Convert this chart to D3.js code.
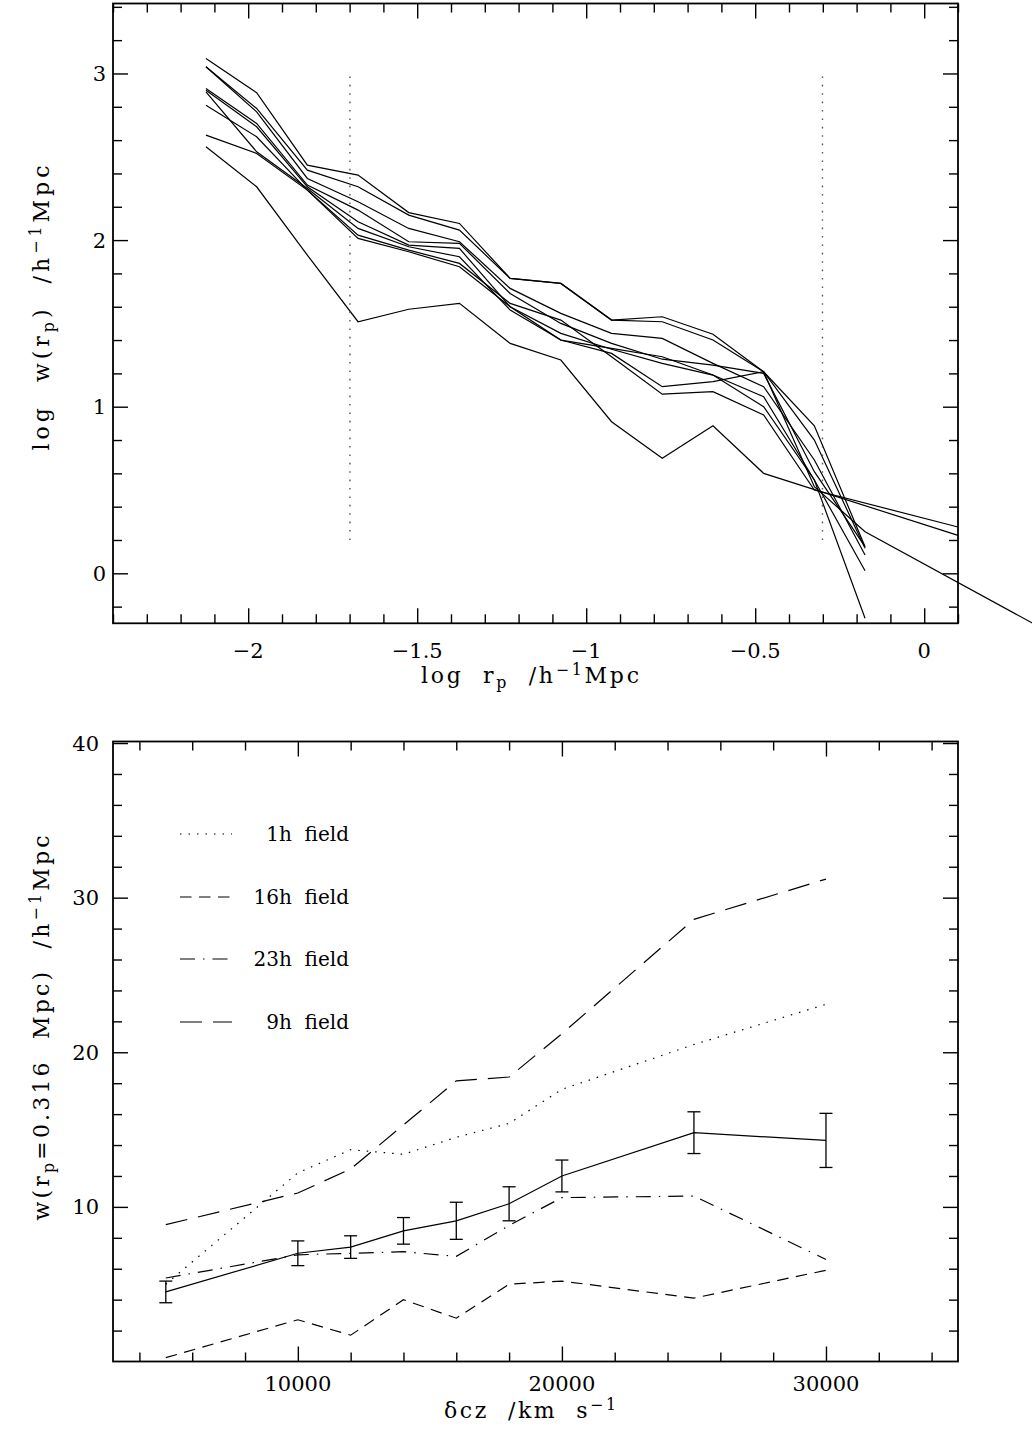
<!DOCTYPE html>
<html><head><meta charset="utf-8">
<script src="https://cdn.jsdelivr.net/npm/d3@7"></script>
<style>
body{margin:0;background:#fff}
svg text{font-family:"DejaVu Serif",serif;fill:#000;white-space:pre}
</style></head><body>
<svg id="c" width="1032" height="1430" xmlns="http://www.w3.org/2000/svg"></svg>
<script>
// ---------- TOP PANEL DATA: log w(rp) vs log rp ----------
const logRp = [-2.125,-1.975,-1.825,-1.675,-1.525,-1.375,-1.225,-1.075,-0.925,-0.775,-0.625,-0.475,-0.325,-0.175];
const wA = [3.09,2.885,2.45,2.39,2.165,2.10,1.77,1.74,1.52,1.54,1.435,1.21,0.885,0.16];
const wB = [3.04,2.79,2.42,2.32,2.15,2.06,1.77,1.74,1.52,1.51,1.40,1.21,0.80,0.15];
const wC = [3.04,2.77,2.37,2.23,2.07,1.99,1.71,1.56,1.44,1.41,1.26,1.12,0.68,0.11];
const wD = [2.91,2.70,2.33,2.18,1.99,1.98,1.68,1.50,1.38,1.285,1.25,1.20,0.61,0.16];
const wE = [2.90,2.68,2.32,2.11,1.97,1.95,1.60,1.44,1.345,1.26,1.19,1.06,0.56,0.015];
const wF = [2.89,2.53,2.31,2.07,1.96,1.90,1.58,1.40,1.32,1.12,1.15,1.21,0.52,0.25];
const wG = [2.81,2.62,2.30,2.03,1.94,1.86,1.62,1.52,1.30,1.075,1.09,0.95,0.50];
const wH = [2.63,2.52,2.30,2.01,1.93,1.84,1.60,1.40,1.35,1.30,1.19,1.00,0.56,-0.27];
const wL = [2.56,2.32,1.91,1.51,1.585,1.62,1.38,1.28,0.91,0.69,0.885,0.60];
// extra points beyond the last bin
const tailF = [[0.33,-0.31]];
const tailG = [[0.1,0.278]];
const tailL = [[0.1,0.228]];
const refLogRp = [-1.699,-0.301];
const refRange = [0.2,3.0];
const topXTicks = [-2,-1.5,-1,-0.5,0];
const topXLabels = ["\u22122","\u22121.5","\u22121","\u22120.5","0"];
const topYTicks = [0,1,2,3];

// ---------- BOTTOM PANEL DATA: w(rp=0.316) vs delta cz ----------
const dcz = [5000,10000,12000,14000,16000,18000,20000,25000,30000];
const wAll = [4.5,7.0,7.4,8.45,9.1,10.2,12.0,14.8,14.3];
const wAllErr = [0.7,0.8,0.73,0.86,1.2,1.1,1.03,1.35,1.75];
const w1h = [5.0,12.2,13.7,13.4,14.5,15.4,17.6,20.5,23.1];
const w16h = [0.25,2.7,1.7,4.0,2.8,5.0,5.2,4.1,5.9];
const w23h = [5.4,6.9,7.0,7.1,6.8,8.8,10.6,10.7,6.6];
const w9h = [8.85,10.9,12.45,15.3,18.15,18.4,21.2,28.6,31.2];
const legendLabels = ["1h  field","16h  field","23h  field","9h  field"];
const botXTicks = [10000,20000,30000];
const botYTicks = [10,20,30,40];

const svg = d3.select("#c");

// scales
const xT = d3.scaleLinear([-2.4,0.1],[113,958]);
const yT = d3.scaleLinear([-0.3,3.42],[623.3,3.5]);
const xB = d3.scaleLinear([3000,35000],[113,958]);
const yB = d3.scaleLinear([0,40.1],[1361.5,741.5]);

function frame(x, y, xMaj, xMin, yMaj, yMin){
  const [x0,x1]=x.range(), [y0,y1]=y.range();
  const g = svg.append("g").attr("color","#000");
  const ax = (axis, tr) => g.append("g").attr("transform",tr).call(axis)
     .call(s=>s.select(".domain").remove())
     .call(s=>s.selectAll("line").attr("stroke-width",1.4));
  [[xMaj,15],[xMin,9]].forEach(([v,s])=>{
    ax(d3.axisBottom(x).tickValues(v).tickSize(-s).tickSizeOuter(0).tickFormat(""),`translate(0,${y0})`);
    ax(d3.axisTop(x).tickValues(v).tickSize(-s).tickSizeOuter(0).tickFormat(""),`translate(0,${y1})`);
  });
  [[yMaj,15],[yMin,9]].forEach(([v,s])=>{
    ax(d3.axisLeft(y).tickValues(v).tickSize(-s).tickSizeOuter(0).tickFormat(""),`translate(${x0},0)`);
    ax(d3.axisRight(y).tickValues(v).tickSize(-s).tickSizeOuter(0).tickFormat(""),`translate(${x1},0)`);
  });
  g.append("rect").attr("x",x0).attr("y",y1).attr("width",x1-x0).attr("height",y0-y1)
    .attr("fill","none").attr("stroke","#000").attr("stroke-width",1.8);
}

// ---------- TOP PANEL ----------
const topMinX = d3.range(-2.4,0.1001,0.1).map(v=>+v.toFixed(2)).filter(v=>!topXTicks.some(t=>Math.abs(t-v)<1e-6));
const topMinY = d3.range(-0.2,3.42,0.2).map(v=>+v.toFixed(2)).filter(v=>!topYTicks.some(t=>Math.abs(t-v)<1e-6));
frame(xT,yT,topXTicks,topMinX,topYTicks,topMinY);

const lineT = d3.line().x(d=>xT(d[0])).y(d=>yT(d[1]));
const topSeries = [[wA,[]],[wB,[]],[wC,[]],[wD,[]],[wE,[]],[wF,tailF],[wG,tailG],[wH,[]],[wL,tailL]];
topSeries.forEach(([w,tail])=>{
  const pts = w.map((v,i)=>[logRp[i],v]).concat(tail);
  svg.append("path").attr("d",lineT(pts)).attr("fill","none").attr("stroke","#000").attr("stroke-width",1.2);
});
refLogRp.forEach(v=>{
  svg.append("line").attr("x1",xT(v)).attr("x2",xT(v)).attr("y1",yT(refRange[0])).attr("y2",yT(refRange[1]))
    .attr("stroke","#555").attr("stroke-width",1.4).attr("stroke-dasharray","1.6 6.8");
});
// tick labels
topXTicks.forEach((t,i)=>svg.append("text").attr("x",xT(t)).attr("y",658).attr("text-anchor","middle")
  .attr("font-size",21).text(topXLabels[i]));
topYTicks.forEach(t=>svg.append("text").attr("x",106).attr("y",yT(t)+7.5).attr("text-anchor","end")
  .attr("font-size",21).text(String(t)));

function richText(x,y,parts,size,rot,len){
  const t = svg.append("text").attr("font-size",size).attr("text-anchor","middle")
    .attr("transform",`translate(${x},${y})`+(rot?` rotate(${rot})`:""));
  if(len) t.attr("textLength",len).attr("lengthAdjust","spacing");
  let shift=0;
  parts.forEach(([s,kind])=>{
    const ts=t.append("tspan").text(s);
    let target = kind==="sub"?5:kind==="sup"?-8:0;
    if(target!==shift){ts.attr("dy",target-shift); shift=target;}
    if(kind) ts.attr("font-size",size*0.72);
  });
  return t;
}
richText(530,683,[["log  r"],["p","sub"],["  /h"],["\u22121","sup"],["Mpc"]],22,0,218);
richText(49,308,[["log  w(r"],["p","sub"],[")  /h"],["\u22121","sup"],["Mpc"]],22,-90,285);

// ---------- BOTTOM PANEL ----------
const botMinX = d3.range(4000,35000,2000).filter(v=>!botXTicks.includes(v));
const botMinY = d3.range(2,40,2).filter(v=>!botYTicks.includes(v));
frame(xB,yB,botXTicks,botMinX,botYTicks,botMinY);

const lineB = d3.line().x((d,i)=>xB(dcz[i])).y(d=>yB(d));
const styles = [[w1h,"1.5 7"],[w16h,"11.5 7.5"],[w23h,"15 8 1.5 8"],[w9h,"22 11"]];
styles.forEach(([w,da])=>{
  svg.append("path").attr("d",lineB(w)).attr("fill","none").attr("stroke","#000")
    .attr("stroke-width",1.2).attr("stroke-dasharray",da);
});
svg.append("path").attr("d",lineB(wAll)).attr("fill","none").attr("stroke","#000").attr("stroke-width",1.2);
const eb = svg.append("g").attr("stroke","#000").attr("stroke-width",1.3);
dcz.forEach((c,i)=>{
  const xp=xB(c), lo=yB(wAll[i]-wAllErr[i]), hi=yB(wAll[i]+wAllErr[i]);
  eb.append("line").attr("x1",xp).attr("x2",xp).attr("y1",lo).attr("y2",hi);
  eb.append("line").attr("x1",xp-6.5).attr("x2",xp+6.5).attr("y1",lo).attr("y2",lo);
  eb.append("line").attr("x1",xp-6.5).attr("x2",xp+6.5).attr("y1",hi).attr("y2",hi);
});
// legend
const legY = [834,897,959,1022];
styles.forEach(([w,da],i)=>{
  svg.append("line").attr("x1",180).attr("x2",232).attr("y1",legY[i]).attr("y2",legY[i])
    .attr("stroke","#000").attr("stroke-width",1.2).attr("stroke-dasharray",da);
  svg.append("text").attr("x",349).attr("y",legY[i]+7).attr("text-anchor","end").attr("font-size",20).text(legendLabels[i]);
});
botXTicks.forEach(t=>svg.append("text").attr("x",xB(t)).attr("y",1391).attr("text-anchor","middle")
  .attr("font-size",21).text(String(t)));
botYTicks.forEach(t=>svg.append("text").attr("x",99).attr("y",yB(t)+7.5).attr("text-anchor","end")
  .attr("font-size",21).text(String(t)));
richText(530,1418,[["\u03b4cz  /km  s"],["\u22121","sup"]],22,0,172);
richText(49,1028,[["w(r"],["p","sub"],["=0.316  Mpc)  /h"],["\u22121","sup"],["Mpc"]],22,-90,385);
</script>
</body></html>
